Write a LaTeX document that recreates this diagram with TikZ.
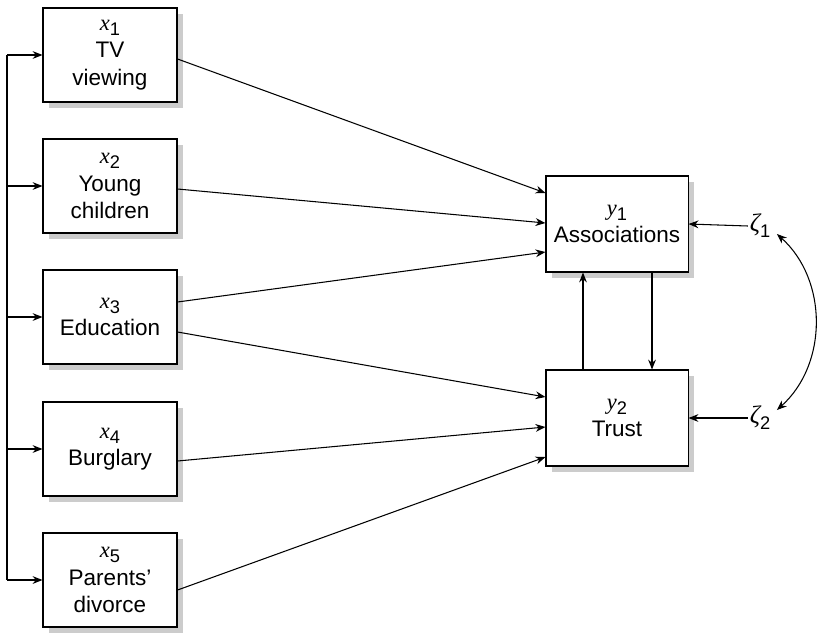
\documentclass[tikz,border=0pt]{standalone}
\usepackage{fontspec}
\setmainfont{Liberation Sans}
\newfontfamily\varfont{Liberation Serif}
\usetikzlibrary{arrows.meta,shadows}
\newcommand{\sub}[2]{{\varfont\itshape #1}\raisebox{-0.45ex}{\fontsize{13}{13}\selectfont #2}}

\begin{document}
\begin{tikzpicture}[x=0.025cm,y=-0.025cm,line width=0.75pt,
  font=\fontsize{16}{19.5}\selectfont,
  >={Stealth[length=7pt,width=5.5pt]},
  shadowed/.style={drop shadow={shadow xshift=0.15cm,shadow yshift=-0.15cm,fill=black!20,opacity=1}},
  xbox/.style={draw,rectangle,fill=white,shadowed,align=center,inner sep=0pt,minimum width=3.35cm,minimum height=2.35cm},
  ybox/.style={xbox,minimum width=3.55cm,minimum height=2.4cm},
  err/.style={inner sep=1pt,font=\fontsize{18}{18}\selectfont}]
\useasboundingbox (0,0) rectangle (819,632);
% exogenous
\node[xbox](x1) at(110,55) {\sub{x}{1}\\TV\\viewing};
\node[xbox](x2) at(110,186) {\sub{x}{2}\\Young\\children};
\node[xbox](x3) at(110,317) {\sub{x}{3}\\Education};
\node[xbox](x4) at(110,449) {\sub{x}{4}\\Burglary};
\node[xbox](x5) at(110,580) {\sub{x}{5}\\Parents'\\divorce};
% endogenous
\node[ybox](y1) at(617,224) {\sub{y}{1}\\Associations};
\node[ybox](y2) at(617,418) {\sub{y}{2}\\Trust};
\node[err](z1) at(760,226) {\sub{ζ}{1}};
\node[err](z2) at(760,418) {\sub{ζ}{2}};
% correlations between the x's
\coordinate (bus) at (7,0);
\draw (x1.west -| bus) -- (x5.west -| bus);
\foreach \v in {x1,x2,x3,x4,x5} {
   \draw[->] (\v.west -| bus) -- (\v.west);
}
% paths
\draw[->] ([yshift=-0.1cm]x1.east) -- ([yshift=0.775cm]y1.west);
\draw[->] ([yshift=-0.075cm]x2.east) -- ([yshift=0.025cm]y1.west);
\draw[->] ([yshift=0.375cm]x3.east) -- ([yshift=-0.7cm]y1.west);
\draw[->] ([yshift=-0.375cm]x3.east) -- ([yshift=0.525cm]y2.west);
\draw[->] ([yshift=-0.3cm]x4.east) -- ([yshift=-0.225cm]y2.west);
\draw[->] ([yshift=-0.25cm]x5.east) -- ([yshift=-0.975cm]y2.west);
\draw[->] ([xshift=-0.85cm]y2.north) -- ([xshift=-0.85cm]y1.south);
\draw[->] ([xshift=0.875cm]y1.south) -- ([xshift=0.875cm]y2.north);
\draw[->] (z1.west) -- (y1.east);
\draw[->] (z2.west) -- (y2.east);
\draw[<->] ([xshift=0.12cm,yshift=-0.2cm]z1.east) to[bend left=48] ([xshift=0.12cm,yshift=0.2cm]z2.east);
\end{tikzpicture}
\end{document}
